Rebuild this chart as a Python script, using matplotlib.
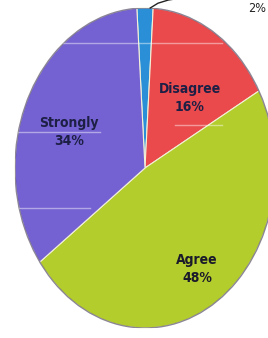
import matplotlib
matplotlib.use("Agg")
import matplotlib.pyplot as plt
from matplotlib.patches import Circle

categories = ["", "Disagree", "Agree", "Strongly"]
values = [2, 16, 48, 34]
pct_labels = ["2%", "16%", "48%", "34%"]
colors = ["#2b8fd8", "#ea4a4c", "#b3cd2c", "#7462d2"]

plt.rcParams['font.family'] = ['DejaVu Sans']

W, H = 268, 338
fig = plt.figure(figsize=(W / 100, H / 100), dpi=100)
fig.patch.set_facecolor("white")
# pie of radius 1 mapped onto the ellipse x 15..275, y 8..328 (pixels)
ax = fig.add_axes([15 / W, 10 / H, 260 / W, 320 / H])

wedges, _ = ax.pie(values, colors=colors, startangle=93.6, counterclock=False,
                   radius=1.0, wedgeprops=dict(edgecolor="#f3f1d8", linewidth=0.8))
ax.set_aspect("auto")
ax.set_xlim(-1, 1)
ax.set_ylim(-1, 1)
ax.axis("off")

# outer outline
ax.add_patch(Circle((0, 0), 1.0, fill=False, edgecolor="#3a3060", linewidth=1.0, alpha=0.55))

# faint horizontal streaks across the pie
clip = Circle((0, 0), 1.0, transform=ax.transData)
for py, x0, x1 in [(43, 63, 222), (132, 18, 100), (125, 175, 222), (208, 18, 90)]:
    yd = (168 - py) / 160
    ln, = ax.plot([(x0 - 145) / 130, (x1 - 145) / 130], [yd, yd], color="white",
                  linewidth=1.0, alpha=0.45)
    ln.set_clip_path(clip)

txtc = "#1d1f45"
fs = 10
kw = dict(ha="center", va="center", fontsize=fs, fontweight="bold",
          fontstretch="condensed", linespacing=1.4)
ax.text(-0.585, 0.225, "Strongly\n34%", color=txtc, **kw)
ax.text(0.346, 0.4375, "Disagree\n16%", color=txtc, **kw)
ax.text(0.40, -0.63, "Agree\n48%", color="#1a1a2a", **kw)
ax.text(0.93, 1.0, pct_labels[0], ha="right", va="center", fontsize=9,
        fontstretch="condensed", color="#222222", clip_on=False)

# leader line for the 2% slice
ax.plot([0.04, 0.10, 0.18, 0.26], [1.0, 1.03, 1.05, 1.06], color="#222222",
        linewidth=1.0, clip_on=False)

fig.savefig("out.png", dpi=100, facecolor="white")
